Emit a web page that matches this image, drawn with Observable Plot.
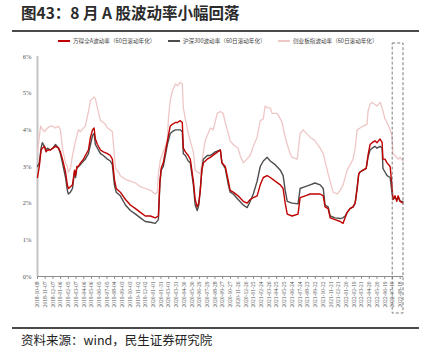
<!DOCTYPE html>
<html><head><meta charset="utf-8">
<script src="https://cdn.jsdelivr.net/npm/d3@7"></script>
<script src="https://cdn.jsdelivr.net/npm/@observablehq/plot@0.6"></script>
<style>
body{margin:0;background:#fff;}
#wrap{position:relative;width:434px;height:352px;overflow:hidden;font-family:"Noto Sans CJK SC",sans-serif;}
#title{position:absolute;left:21px;top:1px;font-size:15.5px;font-weight:bold;color:#2b2b2b;white-space:nowrap;}
.rule{position:absolute;left:12px;width:407px;height:2px;background:#4a4a4a;}
#chart{position:absolute;left:0;top:36px;}
#legend{position:absolute;left:0;top:36px;width:434px;height:10px;z-index:2;}
.li{position:absolute;top:0;height:10px;display:flex;align-items:center;font-size:5.6px;color:#444;white-space:nowrap;}
.sw{display:inline-block;width:12px;height:2px;margin-right:3px;}
#caption{position:absolute;left:21px;top:330px;font-size:12.5px;color:#222;white-space:nowrap;}
</style></head><body>
<div id="wrap">
  <div id="title">图43：8 月 A 股波动率小幅回落</div>
  <div class="rule" style="top:30px"></div>
  <div id="legend"></div>
  <div id="chart"></div>
  <div class="rule" style="top:327px"></div>
  <div id="caption">资料来源：wind，民生证券研究院</div>
</div>
<script>
// ---- data ----
const seriesNames = ["万得全A波动率（60日滚动年化）", "沪深300波动率（60日滚动年化）", "创业板指波动率（60日滚动年化）"];
const seriesColors = ["#c00000", "#4d4d4d", "#efc6c6"];

const dates = ["2018-10-08","2018-10-15","2018-10-22","2018-10-27","2018-11-04","2018-11-10","2018-11-16","2018-11-27","2018-12-07","2018-12-17","2018-12-29",
"2019-01-05","2019-01-13","2019-01-25","2019-02-01","2019-02-05","2019-02-13","2019-02-21","2019-03-01","2019-03-05","2019-03-10","2019-03-16","2019-03-24",
"2019-04-05","2019-04-12","2019-04-24","2019-05-02","2019-05-10","2019-05-16","2019-05-21","2019-05-29","2019-06-10","2019-06-21","2019-07-07","2019-07-18",
"2019-07-26","2019-08-03","2019-08-10","2019-08-26","2019-09-15","2019-10-04","2019-10-24","2019-11-12","2019-12-01","2019-12-21","2020-01-09","2020-01-21",
"2020-01-27","2020-02-01","2020-02-09","2020-02-17","2020-02-25","2020-03-07","2020-03-15","2020-03-27","2020-04-04","2020-04-15","2020-04-23","2020-04-27",
"2020-05-05","2020-05-16","2020-05-24","2020-06-05","2020-06-12","2020-06-20","2020-06-26","2020-07-02","2020-07-08","2020-07-14","2020-07-29","2020-08-10",
"2020-08-29","2020-09-18","2020-09-24","2020-10-07","2020-10-19","2020-10-26","2020-11-07","2020-11-26","2020-12-16","2020-12-31","2021-01-12","2021-01-24",
"2021-02-08","2021-02-20","2021-03-04","2021-03-19","2021-03-31","2021-04-19","2021-05-09","2021-05-20","2021-05-28","2021-06-05","2021-06-24","2021-07-17",
"2021-07-25","2021-08-14","2021-09-02","2021-09-21","2021-10-11","2021-10-23","2021-10-30","2021-11-11","2021-11-19","2021-12-08","2021-12-28","2022-01-08",
"2022-01-16","2022-01-24","2022-02-04","2022-02-16","2022-02-24","2022-03-04","2022-03-10","2022-03-15","2022-03-27","2022-04-08","2022-04-15","2022-04-23",
"2022-05-01","2022-05-12","2022-05-20","2022-06-01","2022-06-09","2022-06-12","2022-06-20","2022-06-28","2022-07-10","2022-07-17","2022-07-21","2022-07-29",
"2022-08-05","2022-08-10","2022-08-18","2022-08-29"];

const windA = [2.7,3.0,3.45,3.5,3.55,3.4,3.45,3.45,3.5,3.55,3.5,
3.4,3.2,2.85,2.5,2.4,2.45,2.5,2.9,2.75,3.0,3.0,3.1,
3.2,3.3,3.45,3.8,4.0,4.05,3.75,3.6,3.45,3.4,3.35,3.3,
3.2,2.65,2.4,2.3,2.1,1.95,1.85,1.75,1.65,1.65,1.6,1.65,
2.6,2.95,3.1,3.4,3.7,4.1,4.15,4.2,4.2,4.25,4.2,3.5,
3.4,3.3,3.2,2.6,2.1,1.9,2.0,2.35,2.9,3.1,3.2,3.25,
3.35,3.45,3.1,3.0,2.6,2.35,2.3,2.2,2.05,2.0,2.1,2.15,
2.2,2.5,2.7,2.75,2.7,2.6,2.5,2.4,2.0,1.7,1.65,1.7,
2.15,2.2,2.25,2.25,2.25,2.2,1.9,1.85,1.6,1.55,1.5,1.45,
1.6,1.75,1.85,1.9,2.0,2.4,2.8,2.85,2.9,2.95,3.3,3.6,
3.65,3.7,3.65,3.75,3.65,3.2,3.2,3.1,3.0,2.5,2.1,2.2,
2.05,2.2,2.05,2.0];

const hs300 = [3.0,3.1,3.5,3.65,3.55,3.45,3.5,3.45,3.5,3.6,3.5,
3.35,3.1,2.7,2.35,2.25,2.3,2.4,2.85,2.7,2.95,3.0,3.05,
3.15,3.2,3.35,3.6,3.85,3.9,3.6,3.5,3.35,3.3,3.2,3.15,
3.05,2.5,2.3,2.2,1.95,1.8,1.7,1.6,1.5,1.48,1.45,1.55,
2.55,2.9,3.0,3.3,3.6,3.9,3.95,4.0,4.0,4.0,3.95,3.35,
3.3,3.15,3.1,2.5,1.95,1.8,1.95,2.4,2.9,3.2,3.3,3.3,
3.4,3.45,3.1,2.95,2.5,2.3,2.25,2.1,1.95,1.88,2.05,2.25,
2.6,3.0,3.15,3.25,3.15,3.05,2.9,2.75,2.35,2.05,2.0,1.98,
2.4,2.45,2.5,2.55,2.5,2.4,1.95,1.9,1.65,1.6,1.58,1.6,
1.65,1.75,1.85,1.9,2.0,2.45,2.8,2.85,2.9,2.95,3.25,3.45,
3.5,3.55,3.5,3.55,3.5,2.95,2.85,2.75,2.7,2.3,2.1,2.15,
2.1,2.15,2.05,2.05];

const cybDates = ["2018-10-08","2018-10-15","2018-10-20","2018-10-29","2018-11-04","2018-11-16","2018-11-27","2018-12-07","2018-12-17","2018-12-29",
"2019-01-05","2019-01-13","2019-01-25","2019-02-01","2019-02-05","2019-02-13","2019-02-21","2019-03-05","2019-03-16","2019-03-24","2019-04-05","2019-04-12",
"2019-04-24","2019-05-02","2019-05-10","2019-05-16","2019-05-21","2019-05-29","2019-06-10","2019-06-21","2019-06-29","2019-07-07","2019-07-18","2019-07-26",
"2019-08-03","2019-08-07","2019-08-19","2019-08-26","2019-09-15","2019-10-04","2019-10-24","2019-11-12","2019-12-01","2019-12-21","2020-01-09","2020-01-17",
"2020-01-21","2020-01-29","2020-02-09","2020-02-25","2020-02-29","2020-03-07","2020-03-15","2020-03-27","2020-04-04","2020-04-15","2020-04-23","2020-04-27",
"2020-05-05","2020-05-16","2020-06-05","2020-06-12","2020-06-20","2020-07-02","2020-07-14","2020-07-21","2020-08-10","2020-08-21","2020-09-06","2020-09-18",
"2020-09-29","2020-10-07","2020-10-15","2020-10-26","2020-11-07","2020-11-26","2020-12-04","2020-12-16","2021-01-12","2021-01-24","2021-02-08","2021-02-20",
"2021-03-04","2021-03-11","2021-03-19","2021-03-31","2021-04-07","2021-04-27","2021-05-09","2021-05-16","2021-05-28","2021-06-05","2021-06-16","2021-06-24",
"2021-07-14","2021-07-25","2021-08-06","2021-09-02","2021-09-21","2021-10-11","2021-10-23","2021-11-11","2021-11-30","2021-12-16","2021-12-28","2022-01-08",
"2022-01-24","2022-02-16","2022-02-24","2022-03-04","2022-03-15","2022-03-27","2022-04-11","2022-04-15","2022-04-23","2022-05-01","2022-05-20","2022-06-01",
"2022-06-09","2022-06-20","2022-06-28","2022-07-10","2022-07-17","2022-07-21","2022-07-29","2022-08-10","2022-08-18","2022-08-29"];

const cyb = [3.4,3.8,4.1,4.0,3.95,4.05,4.1,4.1,4.05,4.1,
4.0,3.5,3.1,3.0,2.85,2.95,3.3,3.7,4.0,3.95,4.05,4.1,
4.5,4.8,4.85,4.9,4.85,4.6,4.25,4.2,4.15,4.05,4.0,3.95,
3.3,2.95,2.85,2.75,2.65,2.6,2.55,2.45,2.4,2.35,2.25,2.3,
2.8,3.2,3.4,3.7,4.3,4.8,5.05,5.25,5.2,5.3,5.25,4.6,
4.3,3.9,3.4,2.9,2.85,2.8,3.4,3.7,4.05,4.0,4.45,4.5,
4.45,4.2,4.0,3.7,3.6,3.5,3.3,3.1,3.3,3.55,3.8,4.25,
4.3,4.65,4.6,4.6,4.45,4.45,4.3,4.2,3.8,3.6,3.35,3.25,
3.2,3.9,4.0,3.8,3.7,3.5,3.35,2.8,2.3,2.25,2.35,2.5,
2.9,3.2,3.5,4.0,4.05,4.1,4.15,4.5,4.7,4.75,4.65,4.75,
4.6,4.3,4.2,4.0,3.85,3.35,3.3,3.2,3.25,3.15];

const yTicks = [0,1,2,3,4,5,6];
const xDomain = ["2018-10-08","2022-08-31"];
const tickLabels = ["2018-10-08","2018-11-07","2018-12-07","2019-01-06","2019-02-05","2019-03-07","2019-04-06","2019-05-06","2019-06-05","2019-07-05",
"2019-08-04","2019-09-03","2019-10-03","2019-11-02","2019-12-02","2020-01-01","2020-01-31","2020-03-01","2020-03-31","2020-04-30","2020-05-30",
"2020-06-29","2020-07-29","2020-08-28","2020-09-27","2020-10-27","2020-11-26","2020-12-26","2021-01-25","2021-02-24","2021-03-26","2021-04-25",
"2021-05-25","2021-06-24","2021-07-24","2021-08-23","2021-09-22","2021-10-22","2021-11-21","2021-12-21","2022-01-20","2022-02-19","2022-03-21",
"2022-04-20","2022-05-20","2022-06-19","2022-07-19","2022-08-18"];
const highlight = [{start:"2022-07-20", end:"2022-08-31"}];

// ---- build ----
const parse = d3.utcParse("%Y-%m-%d");
const fmt = d3.utcFormat("%Y-%m-%d");
const redRows = dates.map((d,i)=>({date:parse(d), v:windA[i]}));
const grayRows = dates.map((d,i)=>({date:parse(d), v:hs300[i]}));
const pinkRows = cybDates.map((d,i)=>({date:parse(d), v:cyb[i]}));
const hl = highlight.map(h=>({start:parse(h.start), end:parse(h.end)}));

const chart = Plot.plot({
  width: 434, height: 284,
  marginTop: 20, marginBottom: 44, marginLeft: 37, marginRight: 31,
  style: {fontFamily: "'Liberation Serif', serif", background: "transparent"},
  x: {type: "utc", domain: xDomain.map(parse)},
  y: {domain: [0, 6]},
  marks: [
    Plot.ruleX([parse(xDomain[0])], {y1: 0, y2: 6, stroke: "#c4c4c4", strokeWidth: 2}),
    Plot.ruleY([0], {stroke: "#8c8c8c", strokeWidth: 1}),
    Plot.axisY({ticks: yTicks, tickFormat: d => d + "%", tickSize: 0, tickPadding: 6, fontSize: 6.5, fill: "#555", label: null}),
    Plot.axisX({ticks: tickLabels.map(parse), tickFormat: fmt, tickRotate: -90, tickSize: 3, tickPadding: 2, fontSize: 5.6, stroke: "#8c8c8c", fill: "#555", label: null}),
    Plot.line(pinkRows, {x: "date", y: "v", stroke: seriesColors[2], strokeWidth: 1.3}),
    Plot.line(grayRows, {x: "date", y: "v", stroke: seriesColors[1], strokeWidth: 1.4}),
    Plot.line(redRows, {x: "date", y: "v", stroke: seriesColors[0], strokeWidth: 1.4}),
    Plot.rect(hl, {x1: "start", x2: "end", fill: "none", stroke: "#7a7a7a", strokeWidth: 1, strokeDasharray: "3,2", insetTop: -13, insetBottom: -37})
  ]
});
document.getElementById("chart").appendChild(chart);

// legend
const legendX = [58, 168, 278];
const lg = document.getElementById("legend");
seriesNames.forEach((n,i)=>{
  const it = document.createElement("div");
  it.className = "li";
  it.style.left = legendX[i] + "px";
  it.innerHTML = `<span class="sw" style="background:${seriesColors[i]}"></span>${n}`;
  lg.appendChild(it);
});
</script>
</body></html>
